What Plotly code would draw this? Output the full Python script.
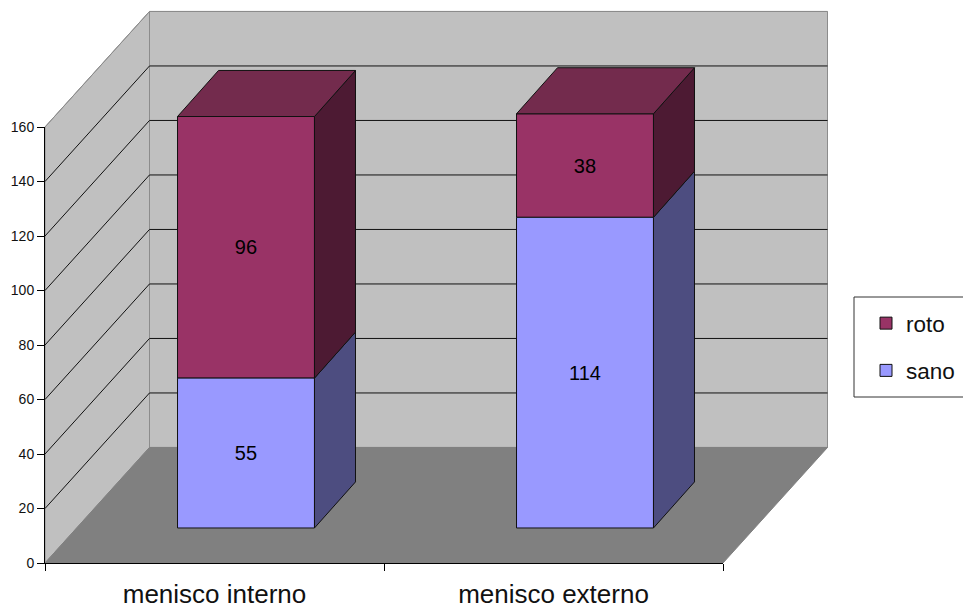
import plotly.graph_objects as go

categories = ["menisco interno", "menisco externo"]
sano = [55, 114]
roto = [96, 38]
y_ticks = [0, 20, 40, 60, 80, 100, 120, 140, 160]

PAGE = 8                            # the page's own margin round the figure
W, H = 971 - PAGE, 605 - PAGE
X0, X1, Y0, Y160 = 45 - PAGE, 723 - PAGE, 563 - PAGE, 127 - PAGE
YMAX = 160
CAT = (X1 - X0) / 2                 # pixels per category
UNIT = (Y0 - Y160) / YMAX           # pixels per value unit
WALL_DX, WALL_DY = 0.3083, 42.4     # depth of the chart box, in axis units
BAR_OX, BAR_OY = 0.0929, 12.85      # front face offset of the bars
BAR_W = 0.404
BAR_DX, BAR_DY = 0.121, 16.9        # depth of each bar

WALL, FLOOR, EDGE = "#C0C0C0", "#808080", "#8C8C8C"
ROTO, ROTO_TOP, ROTO_SIDE = "#993366", "#732B4D", "#4D1A33"
SANO, SANO_SIDE = "#9999FF", "#4D4D80"
INK = "#111111"
FONT = "Liberation Sans, Arial, sans-serif"

fig = go.Figure()


def poly(xs, ys, fill, line, width=1, axes=("x", "y")):
    fig.add_trace(go.Scatter(
        x=xs + xs[:1], y=ys + ys[:1], mode="lines", fill="toself", fillcolor=fill,
        line=dict(color=line, width=width), hoverinfo="skip", showlegend=False,
        xaxis=axes[0], yaxis=axes[1]))


# box of the chart
poly([WALL_DX, 2 + WALL_DX, 2 + WALL_DX, WALL_DX],
     [WALL_DY, WALL_DY, YMAX + WALL_DY, YMAX + WALL_DY], WALL, EDGE)
poly([0, WALL_DX, WALL_DX, 0], [0, WALL_DY, YMAX + WALL_DY, YMAX], WALL, EDGE)
for v in y_ticks[1:-1]:
    fig.add_trace(go.Scatter(
        x=[0, WALL_DX, 2 + WALL_DX], y=[v, v + WALL_DY, v + WALL_DY], mode="lines",
        line=dict(color=INK, width=1), hoverinfo="skip", showlegend=False))
fig.add_trace(go.Scatter(
    x=[0, WALL_DX, 2 + WALL_DX], y=[YMAX, YMAX + WALL_DY, YMAX + WALL_DY], mode="lines",
    line=dict(color=EDGE, width=1), hoverinfo="skip", showlegend=False))
poly([0, 2, 2 + WALL_DX, WALL_DX], [0, 0, WALL_DY, WALL_DY], FLOOR, FLOOR)

# bars
centers = [i + 0.5 + BAR_OX for i in range(len(categories))]
bases_sano = [BAR_OY] * len(sano)
bases_roto = [b + s for b, s in zip(bases_sano, sano)]
for name, vals, bases, color in [("roto", roto, bases_roto, ROTO), ("sano", sano, bases_sano, SANO)]:
    fig.add_trace(go.Bar(
        x=centers, y=vals, base=bases, width=BAR_W, name=name, xaxis="x2", yaxis="y2",
        marker=dict(color=color, line=dict(color=INK, width=1)),
        text=[str(v) for v in vals], textposition="inside", insidetextanchor="middle",
        textangle=0, constraintext="none", textfont=dict(color="black", size=20, family=FONT),
        legendgroup=name, hoverinfo="skip"))

# depth faces of the bars
A2 = ("x2", "y2")
for c, bs, s, br, r in zip(centers, bases_sano, sano, bases_roto, roto):
    xr = c + BAR_W / 2
    xl = c - BAR_W / 2
    poly([xr, xr + BAR_DX, xr + BAR_DX, xr], [bs, bs + BAR_DY, bs + s + BAR_DY, bs + s],
         SANO_SIDE, INK, axes=A2)
    poly([xr, xr + BAR_DX, xr + BAR_DX, xr], [br, br + BAR_DY, br + r + BAR_DY, br + r],
         ROTO_SIDE, INK, axes=A2)
    top = br + r
    poly([xl, xr, xr + BAR_DX, xl + BAR_DX], [top, top, top + BAR_DY, top + BAR_DY],
         ROTO_TOP, INK, axes=A2)

# carrier of the visible axes
fig.add_trace(go.Scatter(x=[0, 2], y=[0, YMAX], mode="none", hoverinfo="skip",
                         showlegend=False, xaxis="x3", yaxis="y3"))

xr_full = [-X0 / CAT, (W - X0) / CAT]
yr_full = [-(H - Y0) / UNIT, Y0 / UNIT]
hidden = dict(visible=False, automargin=False, fixedrange=True)
fig.update_layout(
    width=W, height=H, margin=dict(l=0, r=0, t=0, b=0), autosize=False,
    paper_bgcolor="white", plot_bgcolor="rgba(0,0,0,0)", barmode="overlay",
    font=dict(family=FONT, color=INK),
    xaxis=dict(domain=[0, 1], range=xr_full, anchor="y", **hidden),
    yaxis=dict(domain=[0, 1], range=yr_full, anchor="x", **hidden),
    xaxis2=dict(range=xr_full, overlaying="x", anchor="y2", **hidden),
    yaxis2=dict(range=yr_full, overlaying="y", anchor="x2", **hidden),
    xaxis3=dict(domain=[X0 / W, X1 / W], range=[0, 2], anchor="y3", automargin=False,
                tickvals=[0.5, 1.5], ticktext=categories, ticks="",
                showgrid=False, zeroline=False, showline=True, linecolor="black", linewidth=1,
                tickfont=dict(size=26, family=FONT, color=INK), ticklabelstandoff=8,
                minor=dict(tickvals=[0, 1, 2], ticks="outside", ticklen=7, tickcolor="black", tickwidth=1)),
    yaxis3=dict(domain=[(H - Y0) / H, (H - Y160) / H], range=[0, YMAX], anchor="x3", automargin=False,
                tickvals=y_ticks, ticks="outside", ticklen=7,
                tickcolor="black", showgrid=False, zeroline=False, showline=True,
                linecolor="black", linewidth=1, tickfont=dict(size=14, family=FONT, color=INK)),
    shapes=[dict(type="rect", xref="paper", yref="paper", layer="below",
                 x0=(854 - PAGE) / W, x1=1.02, y0=1 - (397 - PAGE) / H, y1=1 - (297 - PAGE) / H,
                 fillcolor="white", line=dict(color="#333333", width=1))],
    legend=dict(x=(854 - PAGE) / W, y=1 - (302 - PAGE) / H, xanchor="left", yanchor="top",
                bgcolor="rgba(0,0,0,0)", borderwidth=0, traceorder="grouped",
                tracegroupgap=15, indentation=12, font=dict(size=22.5, family=FONT, color=INK),
                itemclick=False, itemdoubleclick=False),
)

fig.write_html("out.html")
